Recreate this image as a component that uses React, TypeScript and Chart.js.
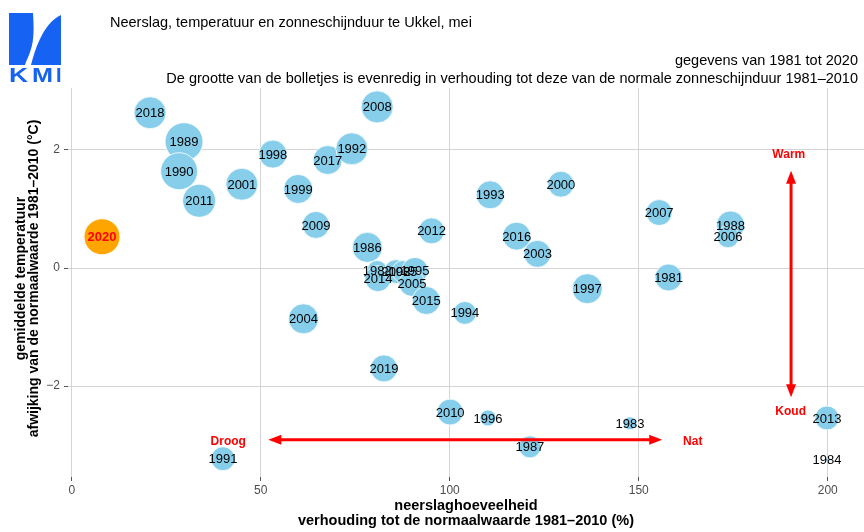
import React, { useEffect, useRef } from "react";
import { Chart, registerables } from "chart.js";

Chart.register(...registerables);

const FONT = '"Liberation Sans", Arial, Helvetica, sans-serif';

// Jaar (mei), neerslag (% van normaal), temperatuurafwijking (°C), zonneschijnduur (% van normaal)
const years = [
  2018, 1989, 1990, 2011, 2001, 1998, 1999, 2017, 1992, 2008,
  2009, 2020, 1986, 2012, 1982, 2014, 2002, 1985, 1995, 2005,
  2015, 2004, 2019, 1994, 1993, 2000, 2016, 2003, 1997, 2007,
  1981, 1988, 2006, 2010, 1996, 1987, 1983, 2013, 1984, 1991,
];
const neerslag = [
  20.7, 29.7, 28.4, 33.7, 45.0, 53.2, 59.9, 67.7, 74.1, 80.8,
  64.6, 8.0, 78.2, 95.2, 80.8, 81.0, 85.8, 87.6, 90.8, 90.0,
  93.8, 61.3, 82.6, 104.0, 110.7, 129.4, 117.7, 123.2, 136.4, 155.4,
  157.9, 174.3, 173.6, 100.1, 110.1, 121.2, 147.7, 199.8, 199.8, 40.0,
];
const temperatuur = [
  2.63, 2.14, 1.64, 1.14, 1.42, 1.93, 1.34, 1.83, 2.02, 2.73,
  0.73, 0.53, 0.35, 0.63, -0.04, -0.18, -0.06, -0.06, -0.04, -0.26,
  -0.55, -0.86, -1.7, -0.76, 1.24, 1.42, 0.54, 0.24, -0.35, 0.94,
  -0.16, 0.73, 0.53, -2.44, -2.54, -3.03, -2.63, -2.54, -3.25, -3.23,
];
const zonneschijn = [
  131, 184, 175, 139, 131, 100, 107, 107, 131, 131,
  93, 165, 115, 86, 51, 86, 73, 62, 86, 86,
  100, 115, 93, 67, 100, 86, 100, 93, 115, 86,
  93, 100, 62, 86, 33, 62, 22, 73, 2, 73,
];
const highlightYear = 2020;

const xTicks = [0, 50, 100, 150, 200];
const yTicks = [-2, 0, 2];
const xRange = [-1.0, 209.6];
const yRange = [-3.54, 3.05];

// Pijlen: [x1, y1, x2, y2]
const arrowDroogNat = [52.0, -2.91, 156.2, -2.91];
const arrowKoudWarm = [190.3, -2.19, 190.3, 1.65];
const arrowLabels = ["Warm", "Koud", "Droog", "Nat"];
const arrowLabelX = [189.7, 190.2, 41.4, 164.3];
const arrowLabelY = [1.92, -2.44, -2.94, -2.94];

const title = "Neerslag, temperatuur en zonneschijnduur te Ukkel, mei";
const subtitle1 = "gegevens van 1981 tot 2020";
const subtitle2 =
  "De grootte van de bolletjes is evenredig in verhouding tot deze van de normale zonneschijnduur 1981\u20132010";
const yTitle = ["gemiddelde temperatuur", "afwijking van de normaalwaarde 1981\u20132010 (\u00b0C)"];
const xTitle = ["neerslaghoeveelheid", "verhouding tot de normaalwaarde 1981\u20132010 (%)"];

const radiusFor = (z: number) => 14 * Math.sqrt(z / 100);

function drawArrow(ctx: CanvasRenderingContext2D, x1: number, y1: number, x2: number, y2: number) {
  const len = 13;
  const hw = 5;
  const dx = x2 - x1;
  const dy = y2 - y1;
  const d = Math.hypot(dx, dy);
  const ux = dx / d;
  const uy = dy / d;
  const px = -uy;
  const py = ux;
  ctx.save();
  ctx.strokeStyle = "#ff0000";
  ctx.fillStyle = "#ff0000";
  ctx.lineWidth = 3;
  ctx.beginPath();
  ctx.moveTo(x1 + ux * (len - 2), y1 + uy * (len - 2));
  ctx.lineTo(x2 - ux * (len - 2), y2 - uy * (len - 2));
  ctx.stroke();
  const head = (tx: number, ty: number, sx: number, sy: number) => {
    ctx.beginPath();
    ctx.moveTo(tx, ty);
    ctx.lineTo(tx + sx * len + px * hw, ty + sy * len + py * hw);
    ctx.lineTo(tx + sx * len - px * hw, ty + sy * len - py * hw);
    ctx.closePath();
    ctx.fill();
  };
  head(x1, y1, ux, uy);
  head(x2, y2, -ux, -uy);
  ctx.restore();
}

function drawLogo(ctx: CanvasRenderingContext2D) {
  const blue = "#1662f2";
  ctx.save();
  ctx.fillStyle = blue;
  // linker vorm
  ctx.beginPath();
  ctx.moveTo(9, 13);
  ctx.lineTo(33, 13);
  ctx.bezierCurveTo(34, 28, 34, 40, 31, 49);
  ctx.bezierCurveTo(29, 56, 26, 61, 25, 65);
  ctx.lineTo(9, 65);
  ctx.closePath();
  ctx.fill();
  // rechter vorm
  ctx.beginPath();
  ctx.moveTo(61, 15);
  ctx.lineTo(61, 65);
  ctx.lineTo(31, 65);
  ctx.bezierCurveTo(33, 57, 36, 47, 40, 39);
  ctx.bezierCurveTo(45, 28, 52, 19, 61, 15);
  ctx.closePath();
  ctx.fill();
  // KMI
  ctx.textBaseline = "alphabetic";
  ctx.textAlign = "left";
  ctx.font = `bold 21px ${FONT}`;
  const letters: [string, number, number][] = [
    ["K", 9, 19],
    ["M", 32, 21],
    ["I", 56, 5.5],
  ];
  letters.forEach(([ch, x, w]) => {
    const mw = ctx.measureText(ch).width;
    ctx.save();
    ctx.translate(x, 82);
    ctx.scale(w / mw, 1);
    ctx.fillText(ch, 0, 0);
    ctx.restore();
  });
  ctx.restore();
}

const overlayPlugin = {
  id: "overlay",
  afterDatasetsDraw(chart: any) {
    const ctx: CanvasRenderingContext2D = chart.ctx;
    const xs = chart.scales.x;
    const ys = chart.scales.y;
    ctx.save();
    // jaarlabels
    ctx.textAlign = "center";
    ctx.textBaseline = "middle";
    years.forEach((yr, i) => {
      const px = xs.getPixelForValue(neerslag[i]);
      const py = ys.getPixelForValue(temperatuur[i]);
      if (yr === highlightYear) {
        ctx.font = `bold 13px ${FONT}`;
        ctx.fillStyle = "#ff0000";
      } else {
        ctx.font = `13px ${FONT}`;
        ctx.fillStyle = "#000000";
      }
      ctx.fillText(String(yr), px, py + 1);
    });
    // pijlen
    drawArrow(
      ctx,
      xs.getPixelForValue(arrowDroogNat[0]),
      ys.getPixelForValue(arrowDroogNat[1]),
      xs.getPixelForValue(arrowDroogNat[2]),
      ys.getPixelForValue(arrowDroogNat[3])
    );
    drawArrow(
      ctx,
      xs.getPixelForValue(arrowKoudWarm[0]),
      ys.getPixelForValue(arrowKoudWarm[1]),
      xs.getPixelForValue(arrowKoudWarm[2]),
      ys.getPixelForValue(arrowKoudWarm[3])
    );
    ctx.font = `bold 12px ${FONT}`;
    ctx.fillStyle = "#ff0000";
    arrowLabels.forEach((t, i) => {
      ctx.fillText(t, xs.getPixelForValue(arrowLabelX[i]), ys.getPixelForValue(arrowLabelY[i]));
    });
    ctx.restore();
  },
  afterDraw(chart: any) {
    const ctx: CanvasRenderingContext2D = chart.ctx;
    const area = chart.chartArea;
    ctx.save();
    ctx.fillStyle = "#000000";
    ctx.textBaseline = "middle";
    // titel
    ctx.textAlign = "left";
    ctx.font = `14.5px ${FONT}`;
    ctx.fillText(title, 110, 23);
    // ondertitels
    ctx.textAlign = "right";
    ctx.font = `14.5px ${FONT}`;
    ctx.fillText(subtitle1, 858, 61);
    ctx.fillText(subtitle2, 858, 79);
    // x-as titel
    ctx.textAlign = "center";
    ctx.font = `bold 14.5px ${FONT}`;
    const cx = (area.left + area.right) / 2;
    ctx.fillText(xTitle[0], cx, 506);
    ctx.fillText(xTitle[1], cx, 521);
    // y-as titel
    ctx.font = `bold 14px ${FONT}`;
    const cy = (area.top + area.bottom) / 2 - 4;
    ctx.save();
    ctx.translate(21, cy);
    ctx.rotate(-Math.PI / 2);
    ctx.fillText(yTitle[0], 0, 0);
    ctx.fillText(yTitle[1], 0, 13);
    ctx.restore();
    drawLogo(ctx);
    ctx.restore();
  },
};

export default function App() {
  const canvasRef = useRef<HTMLCanvasElement | null>(null);

  useEffect(() => {
    document.body.style.margin = "0";
    const canvas = canvasRef.current;
    if (!canvas) return;
    const data = years.map((yr, i) => ({
      x: neerslag[i],
      y: temperatuur[i],
      r: radiusFor(zonneschijn[i]),
    }));
    const colors = years.map((yr) => (yr === highlightYear ? "#ffa500" : "#87ceeb"));
    const chart = new Chart(canvas, {
      type: "bubble",
      data: {
        datasets: [
          {
            data,
            backgroundColor: colors,
            borderColor: "#ffffff",
            borderWidth: 0.8,
            clip: false as any,
          } as any,
        ],
      },
      options: {
        animation: false,
        responsive: false,
        devicePixelRatio: 1,
        layout: { autoPadding: false, padding: { top: 88, left: 0, right: 0, bottom: 0 } },
        plugins: {
          legend: { display: false },
          tooltip: { enabled: false },
          title: { display: false },
        },
        scales: {
          x: {
            type: "linear",
            min: xRange[0],
            max: xRange[1],
            afterBuildTicks: (s: any) => {
              s.ticks = xTicks.map((v) => ({ value: v }));
            },
            afterFit: (s: any) => {
              s.height = 55;
              s.paddingLeft = 0;
              s.paddingRight = 0;
            },
            border: { display: false },
            grid: { color: "#d4d4d4", lineWidth: 1, tickLength: 4, tickColor: "#555555" },
            ticks: {
              color: "#4d4d4d",
              font: { family: FONT, size: 12 },
              padding: 2,
              maxRotation: 0,
              autoSkip: false,
              callback: (v: any) => String(v),
            },
          },
          y: {
            type: "linear",
            min: yRange[0],
            max: yRange[1],
            afterBuildTicks: (s: any) => {
              s.ticks = yTicks.map((v) => ({ value: v }));
            },
            afterFit: (s: any) => {
              s.width = 68;
              s.paddingTop = 0;
              s.paddingBottom = 0;
            },
            border: { display: false },
            grid: { color: "#d4d4d4", lineWidth: 1, tickLength: 4, tickColor: "#555555" },
            ticks: {
              color: "#4d4d4d",
              font: { family: FONT, size: 12 },
              padding: 4,
              autoSkip: false,
              callback: (v: any) => (v < 0 ? "\u2212" + Math.abs(v) : String(v)),
            },
          },
        },
      },
      plugins: [overlayPlugin],
    } as any);
    return () => chart.destroy();
  }, []);

  return <canvas ref={canvasRef} width={864} height={532} style={{ display: "block" }} />;
}
